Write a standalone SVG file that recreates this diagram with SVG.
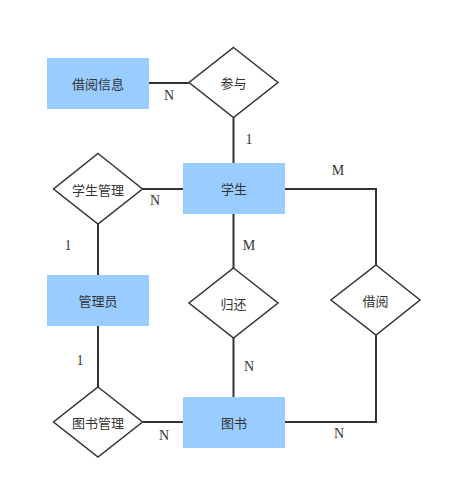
<svg xmlns="http://www.w3.org/2000/svg" width="452" height="489" viewBox="0 0 452 489">
<style>
.ent{fill:#99ccff;stroke:none}
.rel{fill:#ffffff;stroke:#333333;stroke-width:1.5}
.lbl{font-family:"Noto Sans CJK SC","Liberation Sans",sans-serif;font-size:13px;fill:#333333;text-anchor:middle;dominant-baseline:central}
.card{font-family:"Liberation Serif",serif;font-size:14px;fill:#333333;text-anchor:middle;dominant-baseline:central}
.ln{fill:none;stroke:#333333;stroke-width:2}
</style>
<rect width="452" height="489" fill="#ffffff"/>
<g id="connectors">
<path class="ln" d="M149 83H189"/>
<path class="ln" d="M233.5 118V163"/>
<path class="ln" d="M143 189H183"/>
<path class="ln" d="M285 189H376V265"/>
<path class="ln" d="M233.5 214V268"/>
<path class="ln" d="M233.5 338V397"/>
<path class="ln" d="M98 224V275"/>
<path class="ln" d="M98 326V387"/>
<path class="ln" d="M143 422H183"/>
<path class="ln" d="M285 422H376V335"/>
<text class="card" x="169" y="95">N</text>
<text class="card" x="249" y="139">1</text>
<text class="card" x="155" y="200">N</text>
<text class="card" x="338" y="170">M</text>
<text class="card" x="68" y="245">1</text>
<text class="card" x="249" y="245">M</text>
<text class="card" x="249" y="366">N</text>
<text class="card" x="80" y="360">1</text>
<text class="card" x="164" y="435">N</text>
<text class="card" x="339" y="433">N</text>
</g>
<g id="jieyuexinxi"><rect class="ent" x="47" y="58" width="102" height="51"/><text class="lbl" x="98" y="83">借阅信息</text></g>
<g id="canyu"><polygon class="rel" points="233.5,47.5 278,82.5 233.5,117.5 189,82.5"/><text class="lbl" x="233.5" y="82.5">参与</text></g>
<g id="xuesheng"><rect class="ent" x="183" y="163" width="102" height="51"/><text class="lbl" x="234" y="188.5">学生</text></g>
<g id="xueshengguanli"><polygon class="rel" points="98,153.5 142.5,189 98,224 53.5,189"/><text class="lbl" x="98" y="189">学生管理</text></g>
<g id="guanliyuan"><rect class="ent" x="47" y="275" width="102" height="51"/><text class="lbl" x="98" y="300.5">管理员</text></g>
<g id="guihuan"><polygon class="rel" points="233.5,268 278,303 233.5,338 189,303"/><text class="lbl" x="233.5" y="303">归还</text></g>
<g id="jieyue"><polygon class="rel" points="376,265 420,300 376,335 331,300"/><text class="lbl" x="375.5" y="300">借阅</text></g>
<g id="tushuguanli"><polygon class="rel" points="98,387 142.5,422 98,457 53.5,422"/><text class="lbl" x="98" y="422">图书管理</text></g>
<g id="tushu"><rect class="ent" x="183" y="397" width="102" height="51"/><text class="lbl" x="234" y="422">图书</text></g>
</svg>
